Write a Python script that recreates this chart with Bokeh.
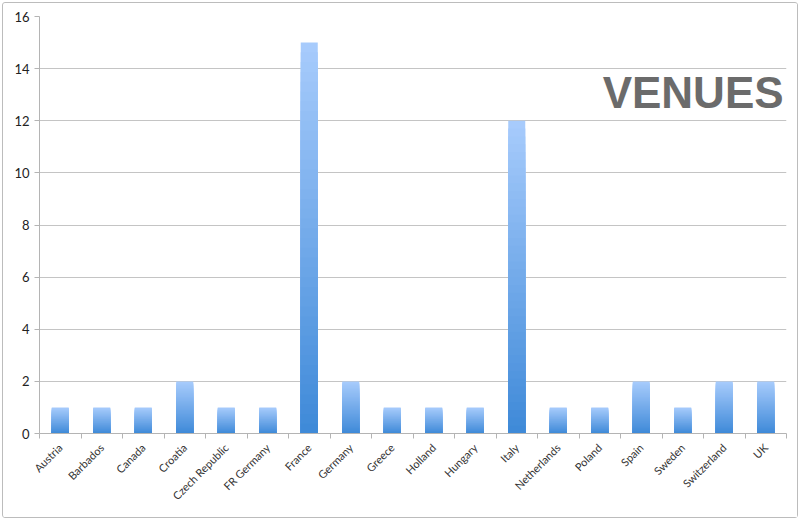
import math
from bokeh.plotting import figure
from bokeh.models import FixedTicker, Label, Range1d
from bokeh.embed import file_html
from bokeh.resources import INLINE

categories = ["Austria", "Barbados", "Canada", "Croatia", "Czech Republic", "FR Germany",
              "France", "Germany", "Greece", "Holland", "Hungary", "Italy", "Netherlands",
              "Poland", "Spain", "Sweden", "Switzerland", "UK"]
venues = [1, 1, 1, 2, 1, 1, 15, 2, 1, 1, 1, 12, 1, 1, 2, 1, 2, 2]
y_ticks = [0, 2, 4, 6, 8, 10, 12, 14, 16]
title_text = "VENUES"

top_rgb = (168, 204, 252)
bottom_rgb = (62, 137, 216)
n_slices = 40

def mix(t):
    r = round(bottom_rgb[0] + (top_rgb[0] - bottom_rgb[0]) * t)
    g = round(bottom_rgb[1] + (top_rgb[1] - bottom_rgb[1]) * t)
    b = round(bottom_rgb[2] + (top_rgb[2] - bottom_rgb[2]) * t)
    return "#%02x%02x%02x" % (r, g, b)

xs = list(range(1, len(categories) + 1))

p = figure(width=796, height=516, output_backend="svg", toolbar_location=None,
           x_range=Range1d(0.5, len(categories) + 0.5), y_range=Range1d(0, 16),
           min_border_left=36, min_border_right=13, min_border_top=13, min_border_bottom=86,
           outline_line_color=None, background_fill_color="white", border_fill_color="white")
p.styles = {"margin-left": "2px", "margin-top": "2px",
            "border": "1px solid #bcbcbc", "border-radius": "3px", "box-sizing": "border-box"}

# gradient bars: overlapping nested bars, tallest (lightest top) first
bw = 0.41
lefts, rights, bottoms, tops, colors = [], [], [], [], []
for i in range(n_slices - 1, -1, -1):
    for x, v in zip(xs, venues):
        lefts.append(x - bw / 2)
        rights.append(x + bw / 2)
        bottoms.append(0)
        tops.append(v * (i + 1) / n_slices)
        colors.append(mix((i + 0.5) / n_slices))
p.quad(left=lefts, right=rights, bottom=bottoms, top=tops, fill_color=colors, line_color=None)

p.xgrid.grid_line_color = None
p.ygrid.ticker = FixedTicker(ticks=y_ticks)
p.ygrid.grid_line_color = "#c4c4c4"
p.ygrid.grid_line_width = 1

xa = p.xaxis[0]
xa.ticker = FixedTicker(ticks=xs, minor_ticks=[x - 0.5 for x in xs] + [xs[-1] + 0.5])
xa.major_label_overrides = {x: c for x, c in zip(xs, categories)}
xa.major_label_orientation = math.pi / 4
xa.major_tick_line_color = None
xa.minor_tick_line_color = "#b4b4b4"
xa.minor_tick_out = 5
xa.minor_tick_in = 0
xa.axis_line_color = "#b4b4b4"
xa.major_label_text_font = "Lato"
xa.major_label_text_font_size = "11px"
xa.major_label_text_color = "#333333"
xa.major_label_standoff = 6

ya = p.yaxis[0]
ya.ticker = FixedTicker(ticks=y_ticks)
ya.minor_tick_line_color = None
ya.major_tick_line_color = "#b4b4b4"
ya.major_tick_out = 5
ya.major_tick_in = 0
ya.axis_line_color = "#b4b4b4"
ya.major_label_text_font = "Lato"
ya.major_label_text_font_size = "13px"
ya.major_label_text_color = "#222222"
ya.major_label_standoff = 5

p.add_layout(Label(x=18.43, y=13.1, text=title_text, text_align="right", text_baseline="middle",
                   text_font="Liberation Sans", text_font_style="bold", text_font_size="44px",
                   text_color="#6b6b6b"))

open("out.html", "w").write(file_html(p, INLINE))
